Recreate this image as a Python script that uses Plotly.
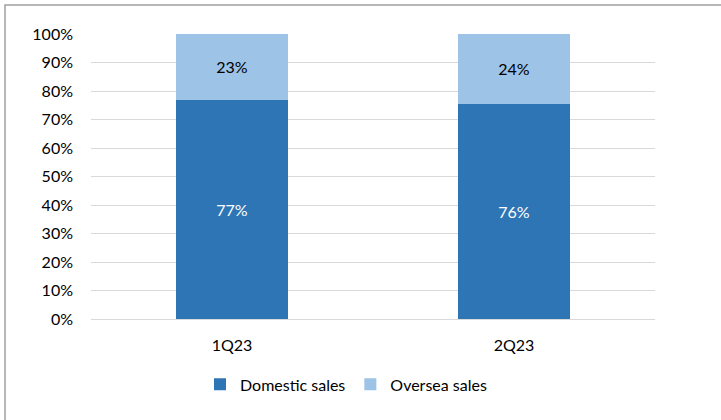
import plotly.graph_objects as go

quarters = ["1Q23", "2Q23"]
domestic = [77.0, 75.6]
oversea = [23.0, 24.4]
y_ticks = list(range(0, 101, 10))
y_labels = [f"{v}%" for v in y_ticks]

W, H = 721, 420
L, R, T, B = 91, 655, 34, 319.5
pw, ph = R - L, B - T

font = "Lato, 'Open Sans', sans-serif"
fs = 16

fig = go.Figure()
fig.add_trace(go.Bar(
    x=quarters, y=domestic, name="Domestic sales",
    marker=dict(color="#2E75B6", line=dict(width=0)),
    texttemplate="%{y:.0f}%", textposition="inside", insidetextanchor="middle",
    textfont=dict(color="white", size=fs, family=font),
))
fig.add_trace(go.Bar(
    x=quarters, y=oversea, name="Oversea sales",
    marker=dict(color="#9DC3E6", line=dict(width=0)),
    texttemplate="%{y:.0f}%", textposition="inside", insidetextanchor="middle",
    textfont=dict(color="black", size=fs, family=font),
))

fig.update_layout(
    width=W, height=H, barmode="stack", bargap=0.605,
    margin=dict(l=L, r=W - R, t=T, b=H - B, pad=0),
    paper_bgcolor="white", plot_bgcolor="white",
    font=dict(family=font, size=fs, color="#000000"),
    uniformtext=dict(mode=False),
    legend=dict(orientation="h", x=(346 - L) / pw, xanchor="center",
                y=-(385 - B) / ph, yanchor="middle",
                font=dict(size=fs, color="#000000"), traceorder="normal",
                itemwidth=30),
    showlegend=True,
    shapes=[dict(type="rect", xref="paper", yref="paper",
                 x0=(5 - L) / pw, x1=(760 - L) / pw,
                 y0=(B - 460) / ph, y1=(B - 5) / ph,
                 line=dict(color="#A0A0A0", width=1.5), fillcolor="rgba(0,0,0,0)",
                 layer="below")],
)
fig.update_xaxes(showgrid=False, showline=False, zeroline=False,
                 ticks="", ticklabelstandoff=15,
                 tickfont=dict(size=fs, family=font, color="#000000"))
fig.update_yaxes(range=[0, 100], tickvals=y_ticks, ticktext=y_labels,
                 showgrid=True, gridcolor="#D9D9D9", gridwidth=1,
                 zeroline=True, zerolinecolor="#D9D9D9", zerolinewidth=1,
                 showline=False, ticks="", ticklabelstandoff=17,
                 tickfont=dict(size=fs, family=font, color="#000000"))

fig.write_html("out.html")
